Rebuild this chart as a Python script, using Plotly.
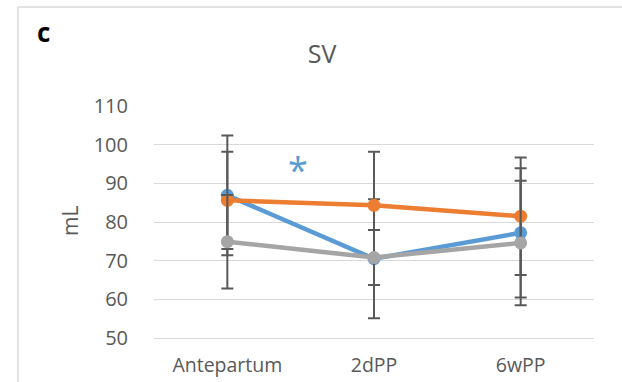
import plotly.graph_objects as go

# Stroke volume by time point, three groups (mean ± SD)
categories = ["Antepartum", "2dPP", "6wPP"]

group1_mean = [86.9, 70.5, 77.2]
group1_sd = [15.5, 15.4, 16.7]

group2_mean = [85.6, 84.3, 81.5]
group2_sd = [12.6, 13.9, 15.2]

group3_mean = [74.9, 70.8, 74.6]
group3_sd = [12.1, 7.1, 16.1]

y_ticks = [50, 60, 70, 80, 90, 100, 110]

W, H = 622, 382
M_L, M_R, M_T, M_B = 154, 28, 106, 44
plot_w = W - M_L - M_R
plot_h = H - M_T - M_B


def px_x(px):
    return (px - M_L) / plot_w


def px_y(py):
    return (H - M_B - py) / plot_h


colors = ["#5B9BD5", "#ED7D31", "#A5A5A5"]
err_color = "#595959"
font_family = "Open Sans, Liberation Sans, sans-serif"

fig = go.Figure()
for mean, sd, col in zip([group1_mean, group2_mean, group3_mean],
                         [group1_sd, group2_sd, group3_sd], colors):
    fig.add_trace(go.Scatter(
        x=categories, y=mean, mode="lines+markers",
        line=dict(color=col, width=4.5),
        marker=dict(color=col, size=13),
        error_y=dict(type="data", array=sd, visible=True,
                     color=err_color, thickness=2, width=6),
        cliponaxis=False, showlegend=False,
    ))

# significance marker between Antepartum and 2dPP
fig.add_annotation(x=0.48, y=93.6, xref="x", yref="y", text="*",
                   showarrow=False, font=dict(size=36, color="#5B9BD5",
                                              family=font_family))

# y-axis unit label
fig.add_annotation(x=px_x(70), y=px_y(221), xref="paper", yref="paper",
                   text="mL", textangle=-90, showarrow=False,
                   xanchor="center", yanchor="middle",
                   font=dict(size=21, color=err_color, family=font_family))

# panel letter
fig.add_annotation(x=px_x(43), y=px_y(32), xref="paper", yref="paper",
                   text="<b>c</b>", showarrow=False,
                   xanchor="center", yanchor="middle",
                   font=dict(size=26, color="#000000", family=font_family))

# chart frame (top and left edges)
frame = "#D9D9D9"
fig.add_shape(type="line", xref="paper", yref="paper",
              x0=px_x(18), x1=px_x(640), y0=px_y(7), y1=px_y(7),
              line=dict(color=frame, width=1.5))
fig.add_shape(type="line", xref="paper", yref="paper",
              x0=px_x(18), x1=px_x(18), y0=px_y(7), y1=px_y(400),
              line=dict(color=frame, width=1.5))

fig.update_layout(
    width=W, height=H,
    margin=dict(l=M_L, r=M_R, t=M_T, b=M_B, autoexpand=False),
    paper_bgcolor="white", plot_bgcolor="white",
    title=dict(text="SV", x=322 / W, y=1 - 54 / H, xanchor="center",
               yanchor="middle", xref="container", yref="container",
               font=dict(size=25, color=err_color, family=font_family)),
    font=dict(family=font_family, color=err_color),
)
fig.update_xaxes(
    type="category", range=[-0.5, 2.5], showgrid=False, automargin=False,
    showline=True, linecolor=frame, linewidth=1.3,
    ticks="", tickfont=dict(size=19.5, color=err_color),
    ticklabelstandoff=9,
)
fig.update_yaxes(
    range=[50, 110], tickvals=y_ticks, showgrid=True, automargin=False,
    gridcolor=frame, gridwidth=1.3, zeroline=False, showline=False,
    ticks="", tickfont=dict(size=20, color=err_color),
    ticklabelstandoff=25,
)

fig.write_html("out.html")
